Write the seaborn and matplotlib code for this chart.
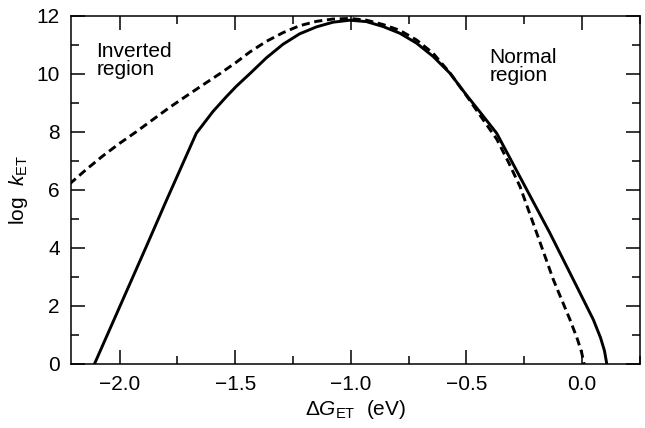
import numpy as np
import pandas as pd
import matplotlib
matplotlib.use('Agg')
import matplotlib.pyplot as plt
from matplotlib.ticker import MultipleLocator
import seaborn as sns

# --- Datos (curva continua) ---
solid_dg = [-2.108, -1.994, -1.88, -1.798, -1.668, -1.596, -1.537, -1.495, -1.437,
            -1.365, -1.293, -1.221, -1.148, -1.077, -1.004, -0.932, -0.860, -0.788,
            -0.716, -0.644, -0.571, -0.500, -0.435, -0.369, -0.254, -0.139, -0.023,
            0.049, 0.080, 0.097, 0.107]
solid_logk = [0.0, 2.06, 4.12, 5.62, 7.95, 8.70, 9.22, 9.57, 10.00,
              10.55, 11.02, 11.38, 11.62, 11.78, 11.85, 11.80, 11.63, 11.40,
              11.06, 10.60, 10.02, 9.27, 8.62, 7.95, 6.23, 4.51, 2.67,
              1.52, 0.90, 0.45, 0.0]

# --- curva discontinua ---
dashed_dg = [-2.216, -2.144, -2.072, -2.0, -1.928, -1.856, -1.784, -1.712, -1.639,
             -1.567, -1.495, -1.437, -1.365, -1.293, -1.221, -1.148, -1.077, -1.004,
             -0.932, -0.860, -0.788, -0.716, -0.644, -0.571, -0.500, -0.435, -0.369,
             -0.318, -0.268, -0.196, -0.124, -0.052, -0.020, -0.002, 0.009]
dashed_logk = [6.20, 6.70, 7.17, 7.60, 8.00, 8.42, 8.84, 9.23, 9.62,
               10.00, 10.40, 10.75, 11.12, 11.42, 11.66, 11.81, 11.89, 11.91,
               11.85, 11.70, 11.50, 11.17, 10.71, 10.03, 9.25, 8.50, 7.75,
               6.95, 6.11, 4.51, 2.90, 1.52, 0.85, 0.40, 0.0]

sns.set_theme(style='ticks')
plt.rcParams['font.family'] = ['Liberation Sans', 'DejaVu Sans']
plt.rcParams['mathtext.fontset'] = 'custom'
plt.rcParams['mathtext.rm'] = 'Liberation Sans'
plt.rcParams['mathtext.it'] = 'Liberation Sans:italic'
plt.rcParams['text.color'] = 'black'

df_solid = pd.DataFrame({'dg': solid_dg, 'logk': solid_logk})
df_dash = pd.DataFrame({'dg': dashed_dg, 'logk': dashed_logk})

fig = plt.figure(figsize=(6.45, 4.28), dpi=100)
ax = fig.add_axes([0.110, 0.150, 0.882, 0.813])

sns.lineplot(data=df_solid, x='dg', y='logk', ax=ax, color='black', lw=2.1, sort=False)
sns.lineplot(data=df_dash, x='dg', y='logk', ax=ax, color='black', lw=2.1, sort=False,
             linestyle=(0, (2.8, 1.6)))

ax.set_xlim(-2.21, 0.25)
ax.set_ylim(0, 12)
ax.xaxis.set_minor_locator(MultipleLocator(0.25))
ax.yaxis.set_major_locator(MultipleLocator(2))
ax.yaxis.set_minor_locator(MultipleLocator(1))
ax.set_xticks([-2.0, -1.5, -1.0, -0.5, 0.0])
ax.set_xticklabels(['\u22122.0', '\u22121.5', '\u22121.0', '\u22120.5', '0.0'])

ax.tick_params(which='both', direction='in', top=True, right=True,
               labelsize=15, colors='black', width=1.1)
ax.tick_params(which='major', length=10, pad=8)
ax.tick_params(which='minor', length=6)
for s in ax.spines.values():
    s.set_linewidth(1.1)
    s.set_color('black')

ax.set_xlabel(r'$\Delta G_{\mathrm{ET}}$  (eV)', fontsize=15, color='black', labelpad=3)
ax.set_ylabel(r'log  $k_{\mathrm{ET}}$', fontsize=15, color='black', labelpad=5)

ax.text(-2.10, 11.1, 'Inverted\nregion', fontsize=15, va='top', ha='left',
        linespacing=0.95, color='black')
ax.text(-0.40, 10.9, 'Normal\nregion', fontsize=15, va='top', ha='left',
        linespacing=0.95, color='black')

fig.savefig('out.png', dpi=100)
